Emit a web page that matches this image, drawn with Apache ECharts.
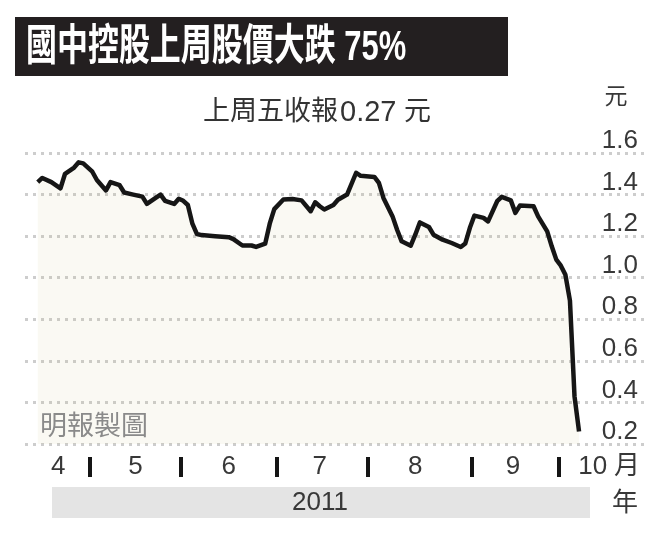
<!DOCTYPE html>
<html>
<head>
<meta charset="utf-8">
<script src="https://cdn.jsdelivr.net/npm/echarts@6/dist/echarts.min.js"></script>
<style>
html,body{margin:0;padding:0;background:#fff;}
#c{width:661px;height:540px;}
</style>
</head>
<body>
<div id="c"></div>
<script>
// ---- data (x = trading-day index from first plotted day, 2011) ----
const days = [0,1,3,5,6,8,9,10,12,13,15,16,18,19,21,23,24,26,27,28,30,31,32,33,34,35,36,39,42,43,45,47,48,50,51,52,54,56,58,60,61,62,63,65,66,68,70,71,74,75,76,78,79,80,82,83,84,86,87,89,91,93,94,95,96,98,99,101,102,104,105,106,109,110,112,113,114,115,116,117,118,119];
const prices = [1.46,1.48,1.46,1.43,1.50,1.53,1.555,1.55,1.51,1.47,1.42,1.46,1.445,1.41,1.40,1.39,1.355,1.385,1.40,1.37,1.355,1.38,1.37,1.35,1.26,1.21,1.205,1.20,1.195,1.186,1.155,1.155,1.148,1.164,1.26,1.33,1.376,1.379,1.372,1.32,1.363,1.344,1.328,1.35,1.375,1.40,1.505,1.49,1.485,1.456,1.384,1.295,1.231,1.175,1.154,1.207,1.266,1.244,1.207,1.183,1.167,1.148,1.165,1.24,1.299,1.288,1.271,1.368,1.389,1.372,1.312,1.347,1.344,1.295,1.223,1.151,1.087,1.058,1.014,0.89,0.43,0.26];
const monthBoundaryDays = [11.5, 31.5, 52.5, 72.5, 95.5, 114.5];
const monthLabelDays = [4.5, 21.5, 42, 62, 83, 104.5, 122];
const monthLabels = ['4','5','6','7','8','9','10'];
const yMin = 0.2, yMax = 1.6, yStep = 0.2;
const titleText = '國中控股上周股價大跌 75%';
const subtitleParts = ['上周五收報', '0.27', ' 元'];
const yearText = '2011';
const sourceText = '明報製圖';

const FONT = "'Liberation Sans', 'Noto Sans CJK TC', sans-serif";
const seriesData = days.map((d, i) => [d, prices[i]]);

const chart = echarts.init(document.getElementById('c'), null, {renderer: 'canvas'});
chart.setOption({
  backgroundColor: '#ffffff',
  animation: false,
  grid: {left: 25, right: 16, top: 153, bottom: 96},
  xAxis: {
    type: 'value',
    min: -2.8,
    max: 133.5,
    offset: 13,
    axisLine: {show: false},
    splitLine: {show: false},
    axisTick: {
      show: true,
      customValues: monthBoundaryDays,
      length: 20,
      inside: false,
      lineStyle: {color: '#151515', width: 4}
    },
    axisLabel: {
      customValues: monthLabelDays,
      formatter: function (v) {
        const i = monthLabelDays.indexOf(v);
        return i >= 0 ? monthLabels[i] : '';
      },
      fontFamily: FONT,
      fontSize: 26,
      color: '#383838',
      margin: 10,
      verticalAlign: 'middle'
    }
  },
  yAxis: {
    type: 'value',
    position: 'right',
    min: yMin,
    max: yMax,
    interval: yStep,
    axisLine: {show: false},
    axisTick: {show: false},
    splitLine: {
      show: true,
      lineStyle: {color: '#cdcdcd', width: 3, type: [3, 5]}
    },
    axisLabel: {
      inside: true,
      margin: 7,
      align: 'right',
      verticalAlign: 'bottom',
      lineHeight: 24,
      fontFamily: FONT,
      fontSize: 26,
      color: '#383838',
      formatter: function (v) { return v.toFixed(1); }
    }
  },
  series: [{
    type: 'line',
    data: seriesData,
    symbol: 'none',
    smooth: false,
    lineStyle: {color: '#161616', width: 4.5, join: 'round'},
    areaStyle: {color: 'rgba(200,180,120,0.12)', origin: 'start'}
  }],
  graphic: [
    {type: 'rect', shape: {x: 15, y: 17, width: 493, height: 59}, style: {fill: '#231f20'}, z: 10},
    {type: 'text', x: 26, y: 48, scaleX: 0.72, z: 11,
     style: {text: titleText, fill: '#ffffff', font: 'bold 43px ' + FONT,
             fontSize: 43, fontWeight: 'bold', fontFamily: FONT,
             textAlign: 'left', textVerticalAlign: 'middle', align: 'left', verticalAlign: 'middle'}},
    {type: 'text', x: 203, y: 113, z: 11,
     style: {text: '{c|' + subtitleParts[0] + '}{n|' + subtitleParts[1] + '}{c|' + subtitleParts[2] + '}',
             fill: '#333333', fontSize: 27, fontFamily: FONT,
             rich: {c: {fontSize: 27, fontFamily: FONT, fill: '#333333', color: '#333333'},
                    n: {fontSize: 29, fontFamily: FONT, fill: '#333333', color: '#333333', padding: [0, 0, 0, 2]}},
             textAlign: 'left', textVerticalAlign: 'middle', align: 'left', verticalAlign: 'middle'}},
    {type: 'text', x: 616, y: 98, z: 11,
     style: {text: '元', fill: '#383838', fontSize: 23, fontFamily: FONT,
             textAlign: 'center', textVerticalAlign: 'middle', align: 'center', verticalAlign: 'middle'}},
    {type: 'text', x: 40, y: 428, z: 11,
     style: {text: sourceText, fill: '#8a8a8a', fontSize: 27, fontFamily: FONT,
             textAlign: 'left', textVerticalAlign: 'middle', align: 'left', verticalAlign: 'middle'}},
    {type: 'text', x: 627, y: 467, z: 11,
     style: {text: '月', fill: '#383838', fontSize: 26, fontFamily: FONT,
             textAlign: 'center', textVerticalAlign: 'middle', align: 'center', verticalAlign: 'middle'}},
    {type: 'rect', shape: {x: 52, y: 487, width: 538, height: 31}, style: {fill: '#e4e4e4'}, z: 10},
    {type: 'text', x: 320, y: 503, z: 11,
     style: {text: yearText, fill: '#383838', fontSize: 26, fontFamily: FONT,
             textAlign: 'center', textVerticalAlign: 'middle', align: 'center', verticalAlign: 'middle'}},
    {type: 'text', x: 625, y: 504, z: 11,
     style: {text: '年', fill: '#383838', fontSize: 26, fontFamily: FONT,
             textAlign: 'center', textVerticalAlign: 'middle', align: 'center', verticalAlign: 'middle'}}
  ]
});
</script>
</body>
</html>
